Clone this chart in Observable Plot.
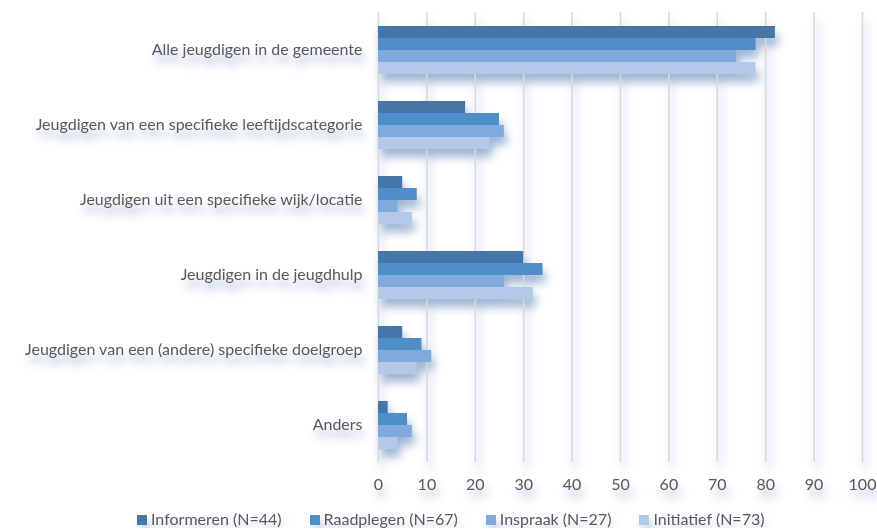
<!DOCTYPE html>
<html>
<head>
<meta charset="utf-8">
<script src="https://cdn.jsdelivr.net/npm/d3@7"></script>
<script src="https://cdn.jsdelivr.net/npm/@observablehq/plot@0.6"></script>
<style>
  body { margin: 0; background: #fff; font-family: Lato, sans-serif; overflow: hidden; }
  #chart svg { filter: drop-shadow(3px 8px 5px rgba(40, 90, 160, 0.45)); overflow: visible; display: block; }
  #legend { height: 18px; line-height: 18px; margin-top: 5px; padding-left: 137px; font-size: 16px; color: #595959; white-space: nowrap; filter: drop-shadow(3px 6px 4px rgba(40, 90, 160, 0.3)); }
  #legend span.item { display: inline-block; margin-right: 28px; }
  #legend span.sw { display: inline-block; width: 10px; height: 10px; margin-right: 4px; vertical-align: 0px; }
</style>
</head>
<body>
<div id="chart"></div>
<div id="legend"></div>
<script>
const categories = [
  "Alle jeugdigen in de gemeente",
  "Jeugdigen van een specifieke leeftijdscategorie",
  "Jeugdigen uit een specifieke wijk/locatie",
  "Jeugdigen in de jeugdhulp",
  "Jeugdigen van een (andere) specifieke doelgroep",
  "Anders"
];
const series = ["Informeren (N=44)", "Raadplegen (N=67)", "Inspraak (N=27)", "Initiatief (N=73)"];
const informeren = [82, 18, 5, 30, 5, 2];
const raadplegen = [78, 25, 8, 34, 9, 6];
const inspraak   = [74, 26, 4, 26, 11, 7];
const initiatief = [78, 23, 7, 32, 8, 4];
const xTicks = [0, 10, 20, 30, 40, 50, 60, 70, 80, 90, 100];
const colors = ["#4676a8", "#4f8ec8", "#80aadc", "#b3c9e7"];

const valuesBySeries = [informeren, raadplegen, inspraak, initiatief];
const data = [];
categories.forEach((c, i) => {
  series.forEach((s, j) => data.push({category: c, series: s, value: valuesBySeries[j][i]}));
});

const plot = Plot.plot({
  width: 877,
  height: 505,
  marginTop: 12,
  marginBottom: 43,
  marginLeft: 378,
  marginRight: 15,
  style: {fontFamily: "Lato", fontSize: "16px", color: "#595959", background: "transparent"},
  facet: {data, y: "category"},
  fy: {domain: categories, padding: 0, axis: "left", tickSize: 0, tickPadding: 16, label: null},
  y: {domain: series, paddingInner: 0, paddingOuter: 0.92, axis: null},
  x: {domain: [0, 100], ticks: xTicks, tickSize: 0, tickPadding: 16, label: null},
  color: {domain: series, range: colors},
  marks: [
    Plot.ruleX(xTicks, {stroke: "#d9d9d9", strokeWidth: 1.6}),
    Plot.barX(data, {x: "value", y: "series", fill: "series", inset: 0})
  ]
});
document.getElementById("chart").appendChild(plot);

const legend = document.getElementById("legend");
series.forEach((s, j) => {
  const item = document.createElement("span");
  item.className = "item";
  const sw = document.createElement("span");
  sw.className = "sw";
  sw.style.background = colors[j];
  item.appendChild(sw);
  item.appendChild(document.createTextNode(s));
  legend.appendChild(item);
});
</script>
</body>
</html>
